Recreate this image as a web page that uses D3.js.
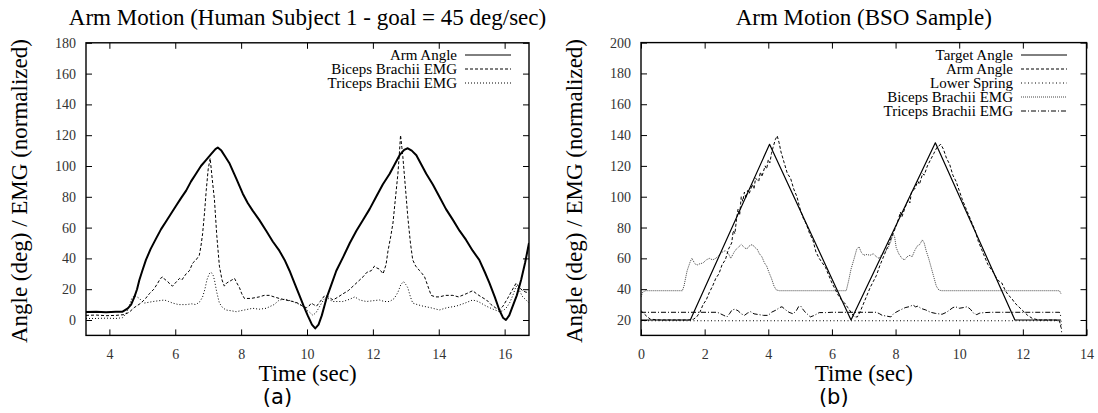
<!DOCTYPE html>
<html lang="en">
<head>
<meta charset="utf-8">
<title>Arm Motion</title>
<script src="https://d3js.org/d3.v7.min.js"></script>
<style>
  body { margin: 0; background: #fff; }
  svg { display: block; }
  .tick line { stroke: #000; stroke-width: 1; }
</style>
</head>
<body>
<script>
// ---- panel (a): human subject ----
var xTicksA = [4, 6, 8, 10, 12, 14, 16];
var yTicksA = [0, 20, 40, 60, 80, 100, 120, 140, 160, 180];

var armAngleA = [
  [3.29, 5.2], [3.6, 5.4], [3.9, 5.0], [4.2, 5.3], [4.4, 5.4], [4.56, 7.6], [4.66, 10], [4.76, 15], [4.84, 20],
  [4.91, 26], [5.0, 32], [5.11, 39], [5.25, 46], [5.42, 53], [5.57, 59], [5.72, 64], [5.87, 69], [6.02, 74],
  [6.17, 79], [6.33, 84], [6.48, 90], [6.63, 95], [6.78, 100], [6.94, 104], [7.1, 108], [7.22, 111], [7.29, 112],
  [7.4, 110], [7.52, 106], [7.64, 102], [7.85, 92], [8.05, 82], [8.2, 76], [8.35, 71], [8.55, 65], [8.76, 58],
  [8.96, 51], [9.16, 45], [9.32, 39], [9.47, 32], [9.62, 24], [9.77, 16], [9.9, 9], [10.02, 3], [10.15, -3],
  [10.25, -5.5], [10.35, -3], [10.45, 3], [10.59, 14], [10.74, 23], [10.89, 32], [11.1, 41], [11.3, 50],
  [11.5, 58], [11.7, 65], [11.9, 72], [12.1, 80], [12.3, 88], [12.51, 95], [12.66, 101], [12.81, 107],
  [12.95, 110.5], [13.06, 111.5], [13.18, 110], [13.32, 107], [13.47, 101], [13.62, 95], [13.82, 88],
  [14.02, 80], [14.22, 72], [14.43, 65], [14.63, 58], [14.83, 52], [15.03, 45], [15.23, 39], [15.4, 31],
  [15.54, 24], [15.7, 15], [15.84, 6.5], [15.95, 1.5], [16.04, 0], [16.14, 3], [16.24, 8.7], [16.37, 16],
  [16.5, 26], [16.62, 37], [16.74, 50]
];

var bicepsA = [
  [3.29, 3], [3.6, 3.2], [3.9, 2.8], [4.2, 3], [4.45, 3.5], [4.6, 5], [4.75, 8], [4.96, 11], [5.1, 14], [5.21, 17],
  [5.35, 20], [5.47, 24], [5.55, 27], [5.62, 28], [5.7, 26], [5.77, 25], [5.85, 23], [5.92, 22], [6.0, 24],
  [6.13, 27], [6.2, 26], [6.33, 30], [6.43, 32], [6.53, 37], [6.63, 39], [6.73, 42], [6.78, 48], [6.83, 56],
  [6.89, 70], [6.94, 84], [7.0, 98], [7.06, 105], [7.12, 92], [7.19, 78], [7.26, 55], [7.34, 35], [7.42, 26],
  [7.49, 22], [7.56, 24], [7.64, 25], [7.72, 26], [7.8, 27], [7.87, 24], [7.95, 21], [8.02, 17], [8.1, 14],
  [8.3, 14], [8.55, 15], [8.7, 16], [8.86, 16], [9.0, 15], [9.16, 14], [9.35, 13], [9.57, 12], [9.72, 11],
  [9.87, 9], [9.98, 8], [10.06, 9], [10.13, 11], [10.2, 10], [10.29, 9], [10.4, 12], [10.54, 16], [10.65, 15],
  [10.79, 13], [10.95, 15], [11.09, 17], [11.25, 19], [11.4, 22], [11.55, 25], [11.7, 28], [11.82, 31],
  [11.95, 32], [12.05, 35], [12.1, 34], [12.2, 33], [12.31, 30], [12.4, 36], [12.46, 45], [12.54, 54],
  [12.61, 63], [12.68, 78], [12.76, 95], [12.81, 110], [12.84, 120], [12.88, 112], [12.91, 106], [12.98, 88],
  [13.06, 67], [13.14, 50], [13.21, 39], [13.3, 35], [13.42, 32], [13.5, 30], [13.57, 28], [13.67, 22],
  [13.77, 16], [13.9, 15], [14.02, 15], [14.2, 16], [14.43, 16], [14.6, 15], [14.83, 17], [15.03, 19],
  [15.15, 17], [15.29, 15], [15.45, 13], [15.59, 10], [15.72, 8], [15.84, 6.5], [15.95, 9], [16.09, 14],
  [16.22, 19], [16.35, 24], [16.45, 21], [16.55, 19], [16.65, 18], [16.74, 18]
];

var tricepsA = [
  [3.29, 1], [3.6, 1], [3.9, 1.2], [4.2, 1], [4.4, 1.5], [4.5, 4], [4.6, 9], [4.68, 14], [4.76, 16], [4.84, 15],
  [4.91, 14], [5.0, 12], [5.06, 11], [5.2, 11.5], [5.32, 12], [5.5, 12.5], [5.67, 13], [5.8, 12], [5.92, 11],
  [6.1, 10], [6.33, 10], [6.5, 10.5], [6.63, 10], [6.75, 12], [6.83, 15], [6.9, 20], [6.96, 26], [7.03, 30],
  [7.09, 31], [7.15, 29], [7.19, 26], [7.26, 18], [7.34, 11], [7.44, 8], [7.54, 6.5], [7.7, 6], [7.85, 5.4],
  [8.1, 6.5], [8.35, 7.6], [8.55, 7], [8.76, 7.6], [9.0, 10], [9.16, 13], [9.35, 13.5], [9.57, 12], [9.78, 10],
  [9.87, 9], [9.98, 6.5], [10.08, 5], [10.18, 3], [10.28, 5], [10.39, 9], [10.5, 13], [10.59, 15], [10.7, 13],
  [10.79, 12], [11.09, 12], [11.3, 13.5], [11.45, 15], [11.6, 13], [11.8, 12], [12.0, 12.5], [12.2, 13],
  [12.35, 12], [12.51, 12], [12.65, 14], [12.76, 18], [12.85, 23], [12.93, 25], [13.0, 23], [13.06, 21],
  [13.14, 15], [13.21, 11], [13.35, 10], [13.52, 9], [13.75, 8], [14.02, 6.5], [14.25, 8], [14.53, 9],
  [14.8, 11], [15.03, 13], [15.2, 12], [15.44, 9], [15.65, 7], [15.84, 5.4], [15.95, 6], [16.04, 7.6],
  [16.15, 11], [16.25, 16], [16.35, 22], [16.45, 19], [16.55, 15], [16.65, 13], [16.74, 11]
];

// ---- panel (b): BSO sample ----
var xTicksB = [0, 2, 4, 6, 8, 10, 12, 14];
var yTicksB = [20, 40, 60, 80, 100, 120, 140, 160, 180, 200];

var targetB = [[0, 20], [1.55, 20], [4.04, 134], [6.6, 20], [9.25, 135], [11.75, 20], [13.2, 20]];

var armB = [
  [0, 26], [0.1, 24], [0.2, 22], [0.3, 20.5], [0.6, 20], [1.0, 20], [1.5, 20], [1.65, 20.5], [1.75, 22],
  [1.85, 25], [1.95, 30], [2.05, 33], [2.15, 38], [2.25, 42], [2.35, 47], [2.45, 50], [2.55, 56], [2.65, 59],
  [2.75, 66], [2.85, 70], [2.9, 78], [2.95, 76], [3.0, 85], [3.05, 92], [3.1, 88], [3.15, 100], [3.2, 97],
  [3.25, 103], [3.3, 99], [3.35, 104], [3.4, 102], [3.5, 108], [3.55, 105], [3.6, 112], [3.7, 110],
  [3.75, 116], [3.8, 113], [3.9, 120], [3.95, 118], [4.0, 124], [4.05, 122], [4.1, 128], [4.15, 132],
  [4.22, 137], [4.28, 139.5], [4.34, 135], [4.4, 129], [4.5, 122], [4.6, 115], [4.7, 112], [4.8, 105],
  [4.9, 100], [5.0, 92], [5.1, 86], [5.2, 82], [5.3, 76], [5.4, 72], [5.5, 64], [5.6, 60], [5.7, 57],
  [5.8, 54], [5.9, 49], [6.0, 44], [6.1, 40], [6.2, 36], [6.3, 33], [6.4, 31], [6.5, 28], [6.6, 25],
  [6.7, 22], [6.8, 22], [6.9, 26], [7.0, 31], [7.1, 36], [7.2, 41], [7.3, 45], [7.4, 49], [7.5, 55],
  [7.6, 60], [7.7, 65], [7.8, 70], [7.9, 75], [8.0, 80], [8.1, 86], [8.15, 90], [8.2, 87], [8.3, 93],
  [8.4, 98], [8.45, 96], [8.5, 103], [8.6, 105], [8.7, 110], [8.75, 108], [8.85, 115], [8.9, 114],
  [9.0, 120], [9.1, 124], [9.2, 128], [9.3, 132], [9.42, 134], [9.5, 131], [9.6, 125], [9.7, 121],
  [9.8, 114], [9.9, 110], [10.0, 104], [10.1, 98], [10.2, 93], [10.3, 88], [10.4, 83], [10.5, 78],
  [10.6, 71], [10.7, 66], [10.8, 61], [10.9, 56], [11.0, 53], [11.1, 50], [11.2, 46], [11.34, 44],
  [11.45, 39], [11.55, 36], [11.65, 34], [11.75, 31], [11.85, 29], [11.95, 27], [12.05, 25], [12.15, 23],
  [12.3, 21], [12.5, 20], [13.0, 20], [13.15, 19.5], [13.2, 15]
];

var lowerSpringB = [[0, 19.5], [13.2, 19.5], [13.22, 11]];

var bicepsB = [
  [0, 35], [0.05, 38], [0.15, 39], [1.3, 39], [1.35, 42], [1.45, 52], [1.55, 58], [1.6, 60], [1.68, 57],
  [1.75, 55.5], [1.85, 56.5], [1.95, 57], [2.05, 59], [2.15, 60], [2.25, 59], [2.35, 60], [2.45, 62],
  [2.55, 64], [2.65, 65], [2.75, 63], [2.82, 60], [2.9, 63], [2.95, 65], [3.05, 67], [3.15, 69], [3.25, 67],
  [3.32, 66], [3.4, 68], [3.5, 69], [3.58, 67], [3.65, 66], [3.72, 63], [3.8, 61], [3.88, 57], [3.95, 55],
  [4.02, 51], [4.1, 47], [4.18, 42], [4.25, 39.5], [4.35, 39], [6.45, 39], [6.52, 45], [6.6, 53], [6.7, 60],
  [6.78, 66], [6.85, 67.5], [6.92, 64], [7.0, 62], [7.1, 62.5], [7.2, 62], [7.3, 63], [7.4, 61], [7.48, 60],
  [7.55, 62], [7.65, 64], [7.75, 66], [7.85, 71], [7.92, 76], [7.97, 74], [8.02, 67], [8.1, 63], [8.2, 60],
  [8.28, 59], [8.36, 61], [8.45, 62], [8.52, 61], [8.6, 65], [8.68, 68], [8.76, 69], [8.84, 72], [8.9, 70],
  [8.96, 65], [9.04, 60], [9.12, 54], [9.2, 48], [9.28, 42], [9.36, 39.4], [9.45, 39], [13.15, 39], [13.2, 37]
];

var tricepsB = [
  [0, 25], [2.4, 25], [2.5, 24], [2.6, 23], [2.7, 22], [2.78, 24], [2.86, 26.5], [2.95, 27], [3.05, 26],
  [3.15, 24], [3.25, 23], [3.35, 24.5], [3.45, 25.4], [3.55, 24], [3.7, 23.5], [3.85, 23], [4.0, 23],
  [4.1, 25], [4.25, 26.5], [4.35, 28], [4.43, 28.6], [4.55, 26.5], [4.65, 25], [4.78, 24], [4.88, 26],
  [4.95, 28.6], [5.02, 29], [5.12, 26], [5.22, 24], [5.32, 22], [5.45, 23], [5.6, 24.8], [5.8, 24.8],
  [6.0, 25], [7.4, 25], [7.5, 24], [7.58, 23], [7.7, 22.6], [7.85, 22], [7.95, 24.3], [8.1, 26], [8.2, 27],
  [8.3, 28], [8.42, 28.6], [8.55, 29.7], [8.63, 28.5], [8.7, 29], [8.8, 27.5], [8.95, 26.5], [9.1, 25],
  [9.25, 24.3], [9.46, 23.7], [9.6, 25], [9.7, 26.5], [9.8, 28], [9.88, 28.6], [10.0, 27.6], [10.12, 28],
  [10.25, 28.6], [10.35, 27], [10.46, 24.3], [10.55, 23.5], [10.65, 24.5], [10.8, 24.8], [11.0, 25],
  [13.15, 25], [13.2, 22]
];

var W = 1098, H = 413;
var SERIF = "'Liberation Serif', 'DejaVu Serif', 'Times New Roman', Times, serif";
var svg = d3.select("body").append("svg").attr("width", W).attr("height", H);

//draws one gnuplot-like panel
function drawPanel(cfg) {
  var x = d3.scaleLinear().domain(cfg.xDomain).range([cfg.left, cfg.right]);
  var y = d3.scaleLinear().domain(cfg.yDomain).range([cfg.bottom, cfg.top]);
  var g = svg.append("g");

  var line = d3.line().x(function (d) { return x(d[0]); }).y(function (d) { return y(d[1]); });

  g.append("defs").append("clipPath").attr("id", cfg.id + "clip")
    .append("rect").attr("x", cfg.left).attr("y", cfg.top)
    .attr("width", cfg.right - cfg.left).attr("height", cfg.bottom - cfg.top);

  var plot = g.append("g").attr("clip-path", "url(#" + cfg.id + "clip)");
  // draw in reverse so the first series sits on top
  cfg.series.slice().reverse().forEach(function (s) {
    plot.append("path")
      .datum(s.data)
      .attr("d", line)
      .attr("fill", "none")
      .attr("stroke", s.color || "#000")
      .attr("stroke-width", s.width || 1)
      .attr("stroke-dasharray", s.dash || null)
      .attr("stroke-linejoin", "round");
  });

  // axes, ticks pointing inwards like gnuplot
  var tk = 6;
  function styleAxis(a) {
    a.select(".domain").remove();
    a.attr("font-family", SERIF).attr("font-size", 14);
    a.selectAll("text").attr("fill", "#333");
  }
  g.append("g").attr("transform", "translate(0," + cfg.bottom + ")")
    .call(d3.axisBottom(x).tickValues(cfg.xTicks).tickSizeInner(-tk).tickSizeOuter(0).tickPadding(14))
    .call(styleAxis);
  g.append("g").attr("transform", "translate(0," + cfg.top + ")")
    .call(d3.axisTop(x).tickValues(cfg.xTicks).tickSizeInner(-tk).tickSizeOuter(0).tickFormat(""))
    .call(styleAxis);
  g.append("g").attr("transform", "translate(" + cfg.left + ",0)")
    .call(d3.axisLeft(y).tickValues(cfg.yTicks).tickSizeInner(-tk).tickSizeOuter(0).tickPadding(10))
    .call(styleAxis);
  g.append("g").attr("transform", "translate(" + cfg.right + ",0)")
    .call(d3.axisRight(y).tickValues(cfg.yTicks).tickSizeInner(-tk).tickSizeOuter(0).tickFormat(""))
    .call(styleAxis);

  g.append("rect")
    .attr("x", cfg.left).attr("y", cfg.top)
    .attr("width", cfg.right - cfg.left).attr("height", cfg.bottom - cfg.top)
    .attr("fill", "none").attr("stroke", "#000").attr("stroke-width", 1.4);

  var cx = (cfg.left + cfg.right) / 2;
  g.append("text")
    .attr("x", cx).attr("y", 25).attr("text-anchor", "middle")
    .attr("font-family", SERIF).attr("font-size", 23)
    .text(cfg.title);

  g.append("text")
    .attr("x", cx).attr("y", 381).attr("text-anchor", "middle")
    .attr("font-family", SERIF).attr("font-size", 23)
    .text("Time (sec)");

  g.append("text")
    .attr("text-anchor", "middle")
    .attr("font-family", SERIF).attr("font-size", 23)
    .attr("transform", "translate(" + (cfg.left - 59) + "," + ((cfg.top + cfg.bottom) / 2 + 2) + ")rotate(-90)")
    .text("Angle (deg) / EMG (normalized)");

  g.append("text")
    .attr("x", cx - 30).attr("y", 404).attr("text-anchor", "middle")
    .attr("font-family", "'DejaVu Sans', sans-serif").attr("font-size", 21)
    .text(cfg.panel);

  // legend, top right
  var leg = g.append("g");
  cfg.series.forEach(function (s, i) {
    var ly = 55 + i * 14;
    leg.append("text")
      .attr("x", cfg.legendText).attr("y", ly + 5)
      .attr("text-anchor", "end")
      .attr("font-family", SERIF).attr("font-size", 15)
      .text(s.name);
    leg.append("line")
      .attr("x1", cfg.legendText + 8).attr("x2", cfg.legendText + 54)
      .attr("y1", ly).attr("y2", ly)
      .attr("stroke", s.color || "#000")
      .attr("stroke-width", s.legendWidth || 1)
      .attr("stroke-dasharray", s.dash || null);
  });
}

drawPanel({
  id: "a",
  left: 86, right: 529, top: 42.8, bottom: 335.4,
  xDomain: [3.29, 16.74], yDomain: [-10, 180],
  xTicks: xTicksA, yTicks: yTicksA,
  title: "Arm Motion (Human Subject 1 - goal = 45 deg/sec)",
  panel: "(a)",
  legendText: 457,
  series: [
    { name: "Arm Angle", data: armAngleA, width: 2, legendWidth: 1 },
    { name: "Biceps Brachii EMG", data: bicepsA, dash: "3,2" },
    { name: "Triceps Brachii EMG", data: tricepsA, dash: "1,2" }
  ]
});

drawPanel({
  id: "b",
  left: 641, right: 1086.5, top: 42.6, bottom: 335.4,
  xDomain: [0, 14], yDomain: [10, 200],
  xTicks: xTicksB, yTicks: yTicksB,
  title: "Arm Motion (BSO Sample)",
  panel: "(b)",
  legendText: 1013,
  series: [
    { name: "Target Angle", data: targetB, width: 1.2 },
    { name: "Arm Angle", data: armB, dash: "3,2" },
    { name: "Lower Spring", data: lowerSpringB, dash: "1,2.5" },
    { name: "Biceps Brachii EMG", data: bicepsB, dash: "1,1", color: "#444" },
    { name: "Triceps Brachii EMG", data: tricepsB, dash: "5,2,1,2" }
  ]
});
</script>
</body>
</html>
